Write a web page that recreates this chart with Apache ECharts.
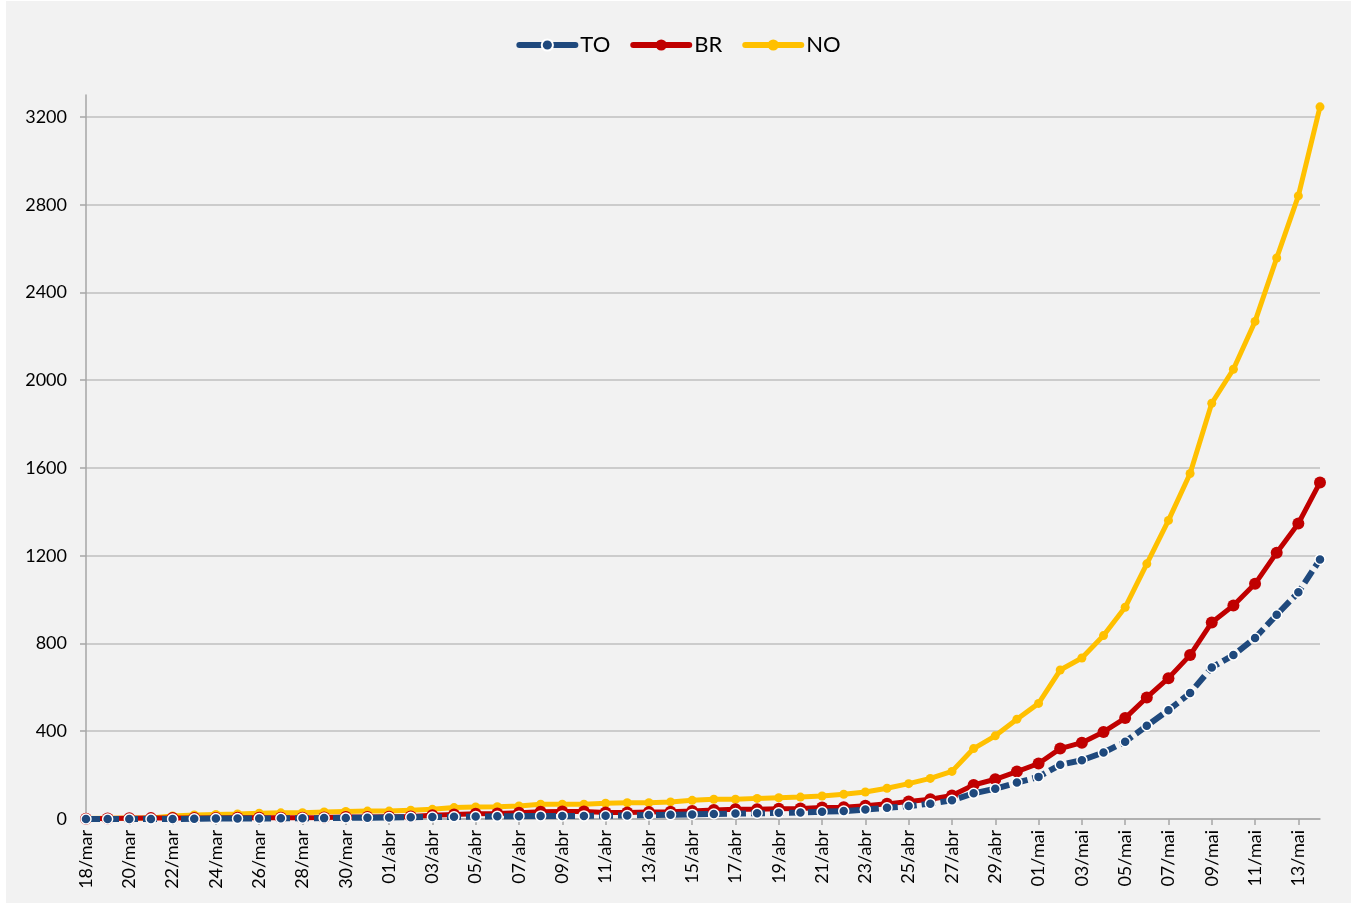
<!DOCTYPE html>
<html lang="pt">
<head>
	<meta charset="UTF-8">
	<title>TO BR NO</title>
	<script src="https://cdn.jsdelivr.net/npm/echarts@6/dist/echarts.min.js"></script>
	<style>
		html, body{
			width: 100%;
			height: 100%;
			padding: 0;
			margin: 0;
			background-color: #fff;
			overflow: hidden;
		}
		#main{
			position: absolute;
			left: 6px;
			top: 1px;
			width: 1345px;
			height: 902px;
			background-color: #f2f2f2;
		}
	</style>
</head>
<body>
	<div id="main"></div>
</body>
<script>
	// datas
	let days = [
		'18/mar','19/mar','20/mar','21/mar','22/mar','23/mar','24/mar','25/mar','26/mar','27/mar',
		'28/mar','29/mar','30/mar','31/mar',
		'01/abr','02/abr','03/abr','04/abr','05/abr','06/abr','07/abr','08/abr','09/abr','10/abr',
		'11/abr','12/abr','13/abr','14/abr','15/abr','16/abr','17/abr','18/abr','19/abr','20/abr',
		'21/abr','22/abr','23/abr','24/abr','25/abr','26/abr','27/abr','28/abr','29/abr','30/abr',
		'01/mai','02/mai','03/mai','04/mai','05/mai','06/mai','07/mai','08/mai','09/mai','10/mai',
		'11/mai','12/mai','13/mai','14/mai'
	];
	let valTO = [
		0, 0, 0, 0, 0, 1, 2, 2, 2, 3,
		3, 4, 5, 6,
		7, 8, 9, 10, 11, 12, 13, 14, 14, 14,
		15, 16, 18, 19, 21, 23, 25, 26, 28, 30,
		33, 36, 43, 51, 59, 70, 85, 117, 138, 166,
		192, 247, 268, 303, 352, 425, 496, 574, 691, 747,
		825, 931, 1033, 1183
	];
	let valBR = [
		1, 2, 3, 4, 5, 5, 5, 6, 6, 6,
		6, 7, 9, 9,
		10, 11, 17, 21, 24, 25, 29, 33, 34, 34,
		30, 30, 32, 33, 36, 41, 44, 44, 47, 48,
		52, 54, 60, 69, 80, 90, 107, 155, 181, 216,
		253, 321, 348, 397, 460, 554, 642, 747, 896, 973,
		1072, 1214, 1347, 1534
	];
	let valNO = [
		2, 3, 4, 5, 14, 18, 21, 23, 26, 28,
		29, 32, 34, 36,
		36, 40, 44, 52, 55, 56, 59, 67, 67, 67,
		72, 74, 74, 78, 85, 90, 90, 94, 97, 100,
		105, 113, 123, 140, 161, 185, 217, 321, 379, 455,
		527, 679, 734, 836, 965, 1163, 1361, 1575, 1895, 2050,
		2268, 2557, 2840, 3246
	];

	let fontName = 'Lato, "Open Sans", sans-serif';
	let myChart = echarts.init(document.getElementById('main'));

	myChart.setOption({
		animation: false,
		legend: {
			top: 28,
			left: 'center',
			itemWidth: 56,
			itemHeight: 14,
			itemGap: 20,
			lineStyle: {width: 6, cap: 'round', type: 'solid'},
			textStyle: {
				fontFamily: fontName,
				fontSize: 22,
				color: '#000',
				padding: [0, 0, 0, 0]
			},
			data: ['TO', 'BR', 'NO']
		},
		grid: {
			left: 80,
			right: 31,
			top: 94,
			bottom: 84,
			containLabel: false
		},
		xAxis: {
			type: 'category',
			boundaryGap: false,
			data: days,
			axisLine: {
				lineStyle: {color: '#a6a6a6', width: 1.5}
			},
			axisTick: {
				show: true,
				interval: 1,
				length: 6,
				lineStyle: {color: '#a6a6a6', width: 1.5}
			},
			axisLabel: {
				interval: 1,
				rotate: 90,
				margin: 11,
				fontFamily: fontName,
				fontSize: 18,
				color: '#000'
			},
			splitLine: {show: false}
		},
		yAxis: {
			type: 'value',
			min: 0,
			max: 3300,
			interval: 400,
			axisLine: {
				show: true,
				lineStyle: {color: '#a6a6a6', width: 1.5}
			},
			axisTick: {
				show: true,
				length: 6,
				lineStyle: {color: '#a6a6a6', width: 1.5}
			},
			axisLabel: {
				margin: 19,
				showMaxLabel: false,
				fontFamily: fontName,
				fontSize: 18,
				color: '#000',
				formatter: function(v){
					return v % 400 === 0 ? String(v) : '';
				}
			},
			splitLine: {
				showMaxLine: false,
				lineStyle: {color: '#bfbfbf', width: 1.5}
			}
		},
		series: [{
			name: 'TO',
			type: 'line',
			data: valTO,
			z: 4,
			symbol: 'circle',
			symbolSize: 10,
			lineStyle: {color: '#1f497d', width: 6, type: [14, 5]},
			itemStyle: {color: '#1f497d', borderColor: '#fff', borderWidth: 1.5}
		}, {
			name: 'BR',
			type: 'line',
			data: valBR,
			z: 3,
			symbol: 'circle',
			symbolSize: 12,
			lineStyle: {color: '#c00000', width: 5},
			itemStyle: {color: '#c00000'}
		}, {
			name: 'NO',
			type: 'line',
			data: valNO,
			z: 2,
			symbol: 'circle',
			symbolSize: 9,
			lineStyle: {color: '#ffc000', width: 5},
			itemStyle: {color: '#ffc000'}
		}]
	});
</script>
</html>
